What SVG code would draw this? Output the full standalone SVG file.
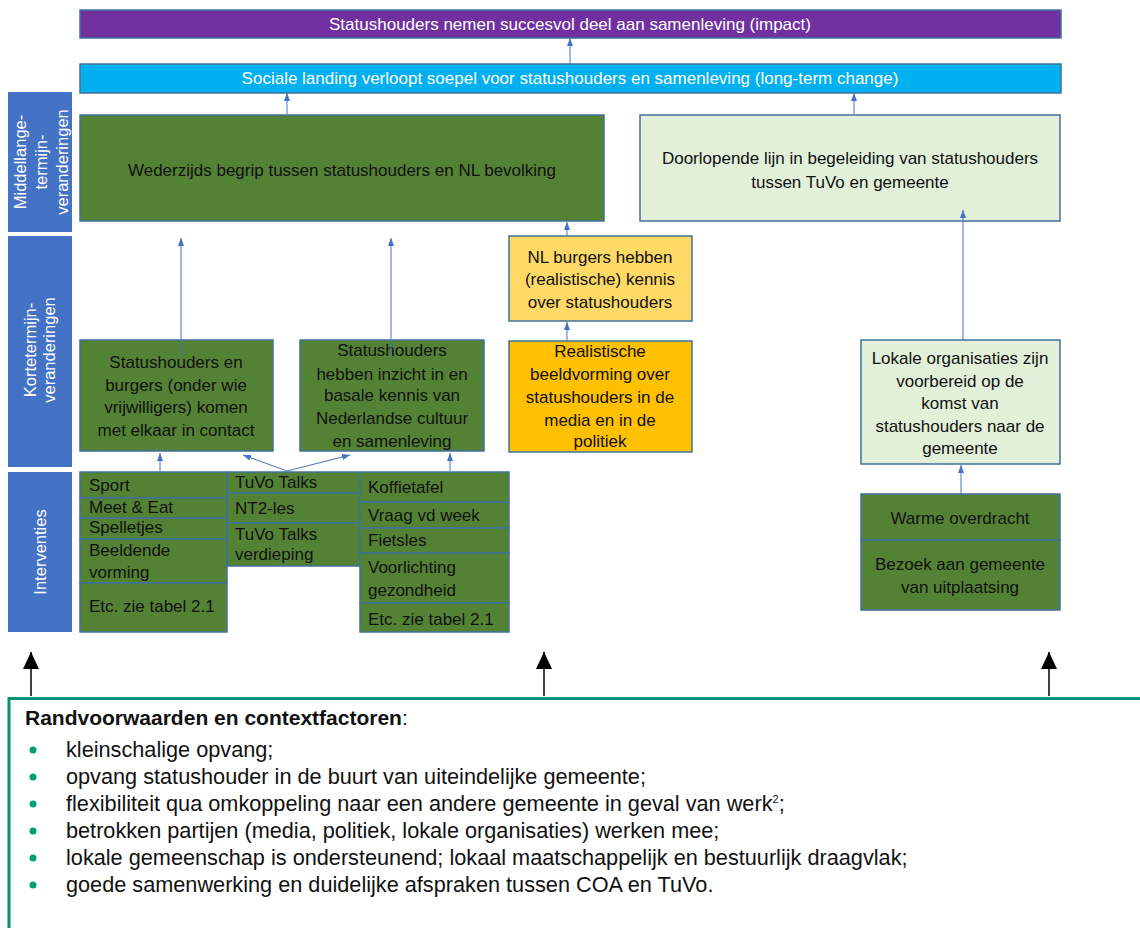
<svg xmlns="http://www.w3.org/2000/svg" width="1140" height="928" viewBox="0 0 1140 928">
<style>
text{font-family:"Liberation Sans",Arial,sans-serif;}
.box{stroke:#41719C;stroke-width:1.5;}
.dg{fill:#548235;}
.lg{fill:#E2F0D9;}
.side{fill:#4472C4;}
.t17{font-size:17px;fill:#111;}
.c{text-anchor:middle;}
.lab{font-size:16.5px;fill:#fff;text-anchor:middle;}
.con{stroke:#4472C4;stroke-width:1;fill:none;marker-end:url(#ah);}
.blk{stroke:#000;stroke-width:1.5;fill:none;marker-end:url(#bh);}
.bt{font-size:21.7px;fill:#111;}
.dot{fill:#00A077;}
</style>
<defs>
<marker id="ah" viewBox="0 0 8 6" refX="8" refY="3" markerWidth="8" markerHeight="6" markerUnits="userSpaceOnUse" orient="auto"><path d="M0,0 L8,3 L0,6 z" fill="#4472C4"/></marker>
<marker id="bh" viewBox="0 0 17 16" refX="17" refY="8" markerWidth="17" markerHeight="16" markerUnits="userSpaceOnUse" orient="auto"><path d="M0,0 L17,8 L0,16 z" fill="#000"/></marker>
</defs>
<rect width="1140" height="928" fill="#fff"/>

<g id="side-labels">
<g id="lab-middel"><rect class="side" x="8" y="92" width="64" height="140"/>
<text class="lab" transform="translate(26,162) rotate(-90)">Middellange-</text>
<text class="lab" transform="translate(47,162) rotate(-90)">termijn-</text>
<text class="lab" transform="translate(68,162) rotate(-90)">veranderingen</text></g>
<g id="lab-korte"><rect class="side" x="8" y="236" width="64" height="231"/>
<text class="lab" transform="translate(36,350) rotate(-90)">Kortetermijn-</text>
<text class="lab" transform="translate(55,350) rotate(-90)">veranderingen</text></g>
<g id="lab-interv"><rect class="side" x="8" y="472" width="64" height="160"/>
<text class="lab" transform="translate(46,552) rotate(-90)">Interventies</text></g>
</g>

<g id="impact"><rect class="box" x="80" y="10" width="981" height="28" fill="#7030A0"/>
<text class="t17 c" x="570" y="30" style="fill:#fff">Statushouders nemen succesvol deel aan samenleving (impact)</text></g>
<g id="longterm"><rect class="box" x="80" y="64" width="981" height="29" fill="#00B0F0"/>
<text class="t17 c" x="570" y="84" style="fill:#fff">Sociale landing verloopt soepel voor statushouders en samenleving (long-term change)</text></g>

<g id="wederzijds"><rect class="box dg" x="80" y="115" width="524" height="106"/>
<text class="t17 c" x="342" y="176">Wederzijds begrip tussen statushouders en NL bevolking</text></g>
<g id="doorlopende"><rect class="box lg" x="640" y="115" width="420" height="106"/>
<text class="t17 c" x="850" y="164">Doorlopende lijn in begeleiding van statushouders</text>
<text class="t17 c" x="850" y="188">tussen TuVo en gemeente</text></g>

<g id="nlburgers"><rect class="box" x="509" y="236" width="183" height="85" fill="#FFD966"/>
<text class="t17 c" x="600" y="263">NL burgers hebben</text>
<text class="t17 c" x="600" y="285">(realistische) kennis</text>
<text class="t17 c" x="600" y="308">over statushouders</text></g>
<g id="realistisch"><rect class="box" x="509" y="341" width="183" height="111" fill="#FFC000"/>
<text class="t17 c" x="600" y="357">Realistische</text>
<text class="t17 c" x="600" y="380">beeldvorming over</text>
<text class="t17 c" x="600" y="403">statushouders in de</text>
<text class="t17 c" x="600" y="426">media en in de</text>
<text class="t17 c" x="600" y="447">politiek</text></g>

<g id="contact"><rect class="box dg" x="80" y="340" width="193" height="111"/>
<text class="t17 c" x="176" y="368">Statushouders en</text>
<text class="t17 c" x="176" y="391">burgers (onder wie</text>
<text class="t17 c" x="176" y="413">vrijwilligers) komen</text>
<text class="t17 c" x="176" y="436">met elkaar in contact</text></g>
<g id="inzicht"><rect class="box dg" x="300" y="340" width="184" height="111"/>
<text class="t17 c" x="392" y="356">Statushouders</text>
<text class="t17 c" x="392" y="380">hebben inzicht in en</text>
<text class="t17 c" x="392" y="401">basale kennis van</text>
<text class="t17 c" x="392" y="424">Nederlandse cultuur</text>
<text class="t17 c" x="392" y="447">en samenleving</text></g>

<g id="lokale"><rect class="box lg" x="861" y="340" width="199" height="124"/>
<text class="t17 c" x="960" y="364">Lokale organisaties zijn</text>
<text class="t17 c" x="960" y="387">voorbereid op de</text>
<text class="t17 c" x="960" y="409">komst van</text>
<text class="t17 c" x="960" y="432">statushouders naar de</text>
<text class="t17 c" x="960" y="454">gemeente</text></g>

<g id="interv-col1">
<rect class="box dg" x="80" y="472" width="147" height="26"/><text class="t17" x="89" y="491">Sport</text>
<rect class="box dg" x="80" y="498" width="147" height="20"/><text class="t17" x="89" y="513">Meet &amp; Eat</text>
<rect class="box dg" x="80" y="518" width="147" height="21"/><text class="t17" x="89" y="533">Spelletjes</text>
<rect class="box dg" x="80" y="539" width="147" height="44"/><text class="t17" x="89" y="556">Beeldende</text><text class="t17" x="89" y="578">vorming</text>
<rect class="box dg" x="80" y="583" width="147" height="49"/><text class="t17" x="89" y="612">Etc. zie tabel 2.1</text>
</g>
<g id="interv-col2">
<rect class="box dg" x="227" y="472" width="133" height="21"/><text class="t17" x="235" y="488">TuVo Talks</text>
<rect class="box dg" x="227" y="493" width="133" height="30"/><text class="t17" x="235" y="514">NT2-les</text>
<rect class="box dg" x="227" y="523" width="133" height="43"/><text class="t17" x="235" y="540">TuVo Talks</text><text class="t17" x="235" y="560">verdieping</text>
</g>
<g id="interv-col3">
<rect class="box dg" x="360" y="472" width="149" height="30"/><text class="t17" x="368" y="493">Koffietafel</text>
<rect class="box dg" x="360" y="502" width="149" height="26"/><text class="t17" x="368" y="521">Vraag vd week</text>
<rect class="box dg" x="360" y="528" width="149" height="25"/><text class="t17" x="368" y="546">Fietsles</text>
<rect class="box dg" x="360" y="553" width="149" height="50"/><text class="t17" x="368" y="573">Voorlichting</text><text class="t17" x="368" y="596">gezondheid</text>
<rect class="box dg" x="360" y="603" width="149" height="29"/><text class="t17" x="368" y="625">Etc. zie tabel 2.1</text>
</g>
<g id="interv-right">
<rect class="box dg" x="861" y="494" width="199" height="46"/><text class="t17 c" x="960" y="524">Warme overdracht</text>
<rect class="box dg" x="861" y="540" width="199" height="70"/><text class="t17 c" x="960" y="570">Bezoek aan gemeente</text><text class="t17 c" x="960" y="593">van uitplaatsing</text>
</g>

<g id="connectors">
<line class="con" x1="570" y1="64" x2="570" y2="38"/>
<line class="con" x1="287" y1="114" x2="287" y2="93"/>
<line class="con" x1="854" y1="114" x2="854" y2="93"/>
<line class="con" x1="567" y1="236" x2="567" y2="222"/>
<line class="con" x1="567" y1="341" x2="567" y2="322"/>
<line class="con" x1="181" y1="357" x2="181" y2="238"/>
<line class="con" x1="391" y1="357" x2="391" y2="238"/>
<line class="con" x1="160" y1="471" x2="160" y2="453"/>
<line class="con" x1="287" y1="471" x2="243" y2="455"/>
<line class="con" x1="287" y1="471" x2="350" y2="455"/>
<line class="con" x1="450" y1="471" x2="450" y2="453"/>
<line class="con" x1="963" y1="340" x2="963" y2="210"/>
<line class="con" x1="961" y1="494" x2="961" y2="465"/>
<line class="blk" x1="31" y1="696" x2="31" y2="652"/>
<line class="blk" x1="544" y1="696" x2="544" y2="652"/>
<line class="blk" x1="1049" y1="696" x2="1049" y2="652"/>
</g>

<g id="context">
<path d="M9,930 L9,698.5 L1142,698.5" fill="none" stroke="#00937A" stroke-width="3"/>
<text class="bt" x="25" y="725" style="font-size:21px"><tspan font-weight="bold">Randvoorwaarden en contextfactoren</tspan>:</text>
<circle class="dot" cx="33" cy="750" r="3.5"/><text class="bt" x="66" y="757">kleinschalige opvang;</text>
<circle class="dot" cx="33" cy="777" r="3.5"/><text class="bt" x="66" y="784">opvang statushouder in de buurt van uiteindelijke gemeente;</text>
<circle class="dot" cx="33" cy="804" r="3.5"/><text class="bt" x="66" y="811">flexibiliteit qua omkoppeling naar een andere gemeente in geval van werk<tspan font-size="11" dy="-8">2</tspan><tspan dy="8">;</tspan></text>
<circle class="dot" cx="33" cy="831" r="3.5"/><text class="bt" x="66" y="838">betrokken partijen (media, politiek, lokale organisaties) werken mee;</text>
<circle class="dot" cx="33" cy="858" r="3.5"/><text class="bt" x="66" y="865">lokale gemeenschap is ondersteunend; lokaal maatschappelijk en bestuurlijk draagvlak;</text>
<circle class="dot" cx="33" cy="885" r="3.5"/><text class="bt" x="66" y="892">goede samenwerking en duidelijke afspraken tussen COA en TuVo.</text>
</g>
</svg>
